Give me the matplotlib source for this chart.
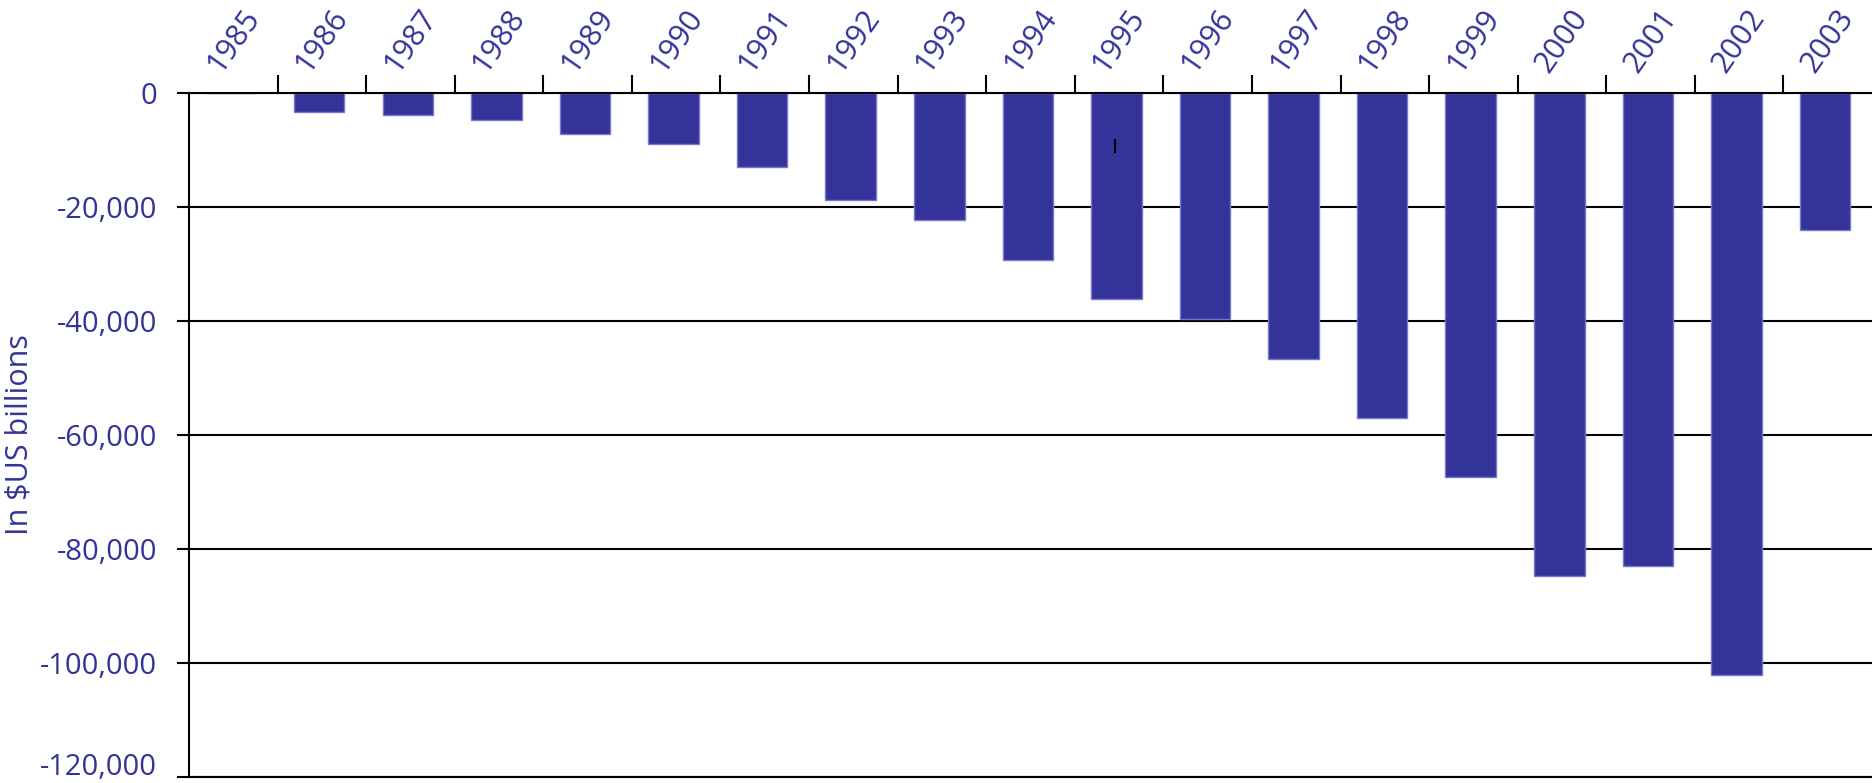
import numpy as np
import matplotlib
matplotlib.use("Agg")
import matplotlib.pyplot as plt
from matplotlib.ticker import FuncFormatter
from matplotlib.transforms import ScaledTranslation

plt.rcParams['font.family'] = ['Open Sans', 'DejaVu Sans']

# data
years = [1985, 1986, 1987, 1988, 1989, 1990, 1991, 1992, 1993, 1994,
         1995, 1996, 1997, 1998, 1999, 2000, 2001, 2002, 2003]
balance = [0, -3300, -3800, -4700, -7250, -8900, -12900, -18800, -22300, -29250,
           -36200, -39700, -46600, -57100, -67400, -84800, -83000, -102100, -24100]
# small stray mark inside the 1995 bar
mark_year = 1995
mark_low, mark_high = -10500, -8100

navy = '#333399'

fig = plt.figure(figsize=(18.72, 7.83), dpi=100)
ax = fig.add_axes([189 / 1872, 6 / 783, 1 - 189 / 1872, 684 / 783])

x = np.arange(len(years))
ax.bar(x - 0.03, balance, width=0.57, color=navy, edgecolor='#7777cc', linewidth=1, zorder=2)
mx = years.index(mark_year) - 0.05
ax.vlines(mx, mark_low, mark_high, color='black', lw=1.5, zorder=3)

ax.set_xlim(-0.5, len(years) - 0.5)
ax.set_ylim(-120000, 0)

# y axis
ax.set_yticks(np.arange(-120000, 1, 20000))
ax.yaxis.set_major_formatter(FuncFormatter(lambda v, p: f"{int(v):,}"))
ax.tick_params(axis='y', length=9, width=1.5, color='black', pad=14,
               labelsize=21, labelcolor=navy)
ax.yaxis.grid(True, color='black', lw=1.5, zorder=1)
ax.set_axisbelow(True)

# lowest label sits a little higher so it stays inside the picture
low = ax.get_yticklabels()[0]
low.set_transform(low.get_transform() + ScaledTranslation(0, 0.13, fig.dpi_scale_trans))

# category axis on top
ax.xaxis.tick_top()
ax.set_xticks(x, labels=[str(y) for y in years])
ax.set_xticks(np.arange(0.5, len(years) - 1, 1), minor=True)
ax.tick_params(axis='x', which='major', length=0, pad=11, rotation=55,
               labelsize=22, labelcolor=navy)
ax.tick_params(axis='x', which='minor', length=13, width=1.5, color='black',
               direction='out', top=True, bottom=False)

for s in ['top', 'left', 'bottom']:
    ax.spines[s].set_linewidth(1.5)
    ax.spines[s].set_color('black')
ax.spines['right'].set_visible(False)

fig.text(20 / 1872, 1 - 435 / 783, 'In $US billions', rotation=90,
         va='center', ha='center', fontsize=22, color=navy)

fig.savefig('out.png', dpi=100)
